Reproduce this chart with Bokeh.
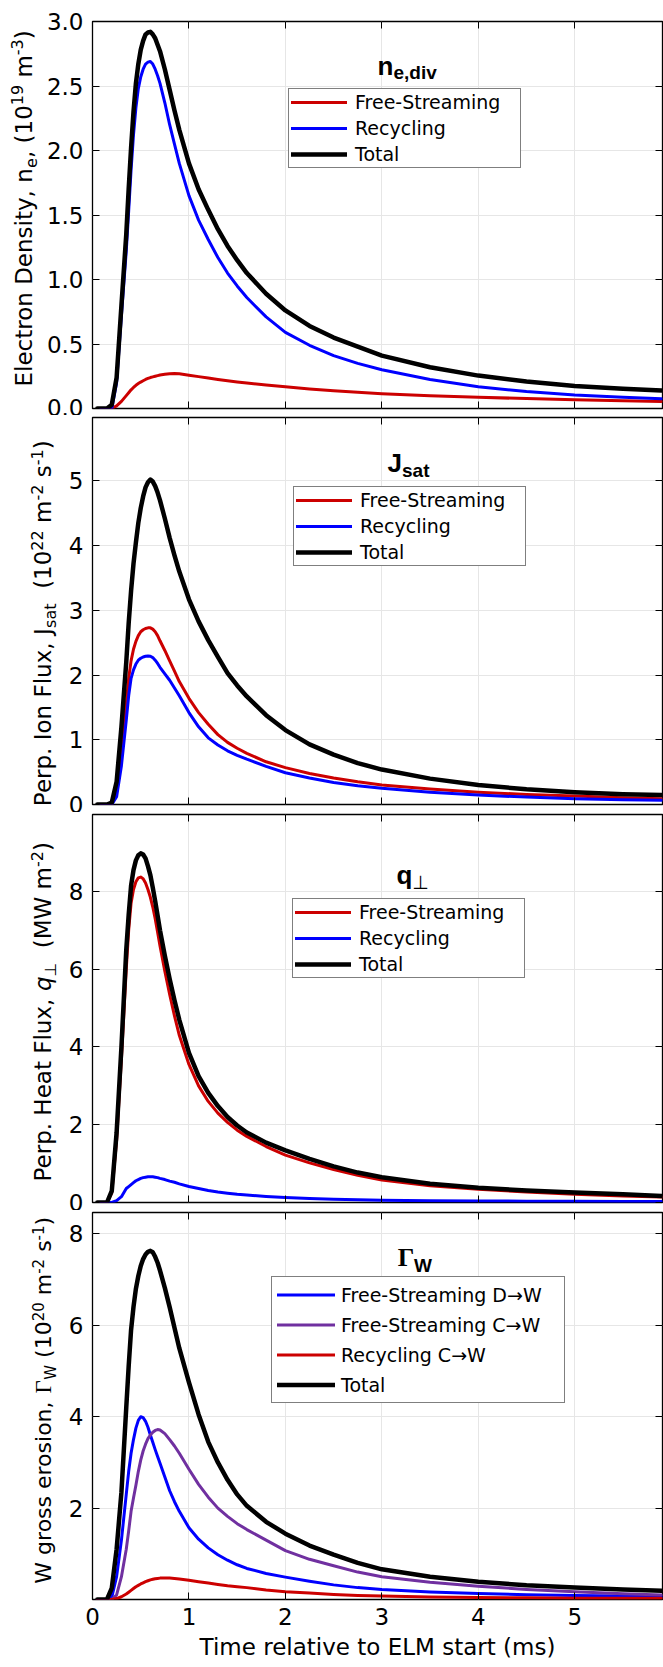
import math
from bokeh.plotting import figure
from bokeh.models import (Range1d, FixedTicker, LinearAxis, Legend, LegendItem,
                          Label, ColumnDataSource)
from bokeh.layouts import column, row
from bokeh.embed import file_html
from bokeh.resources import INLINE
from bokeh.core.properties import value

# ------------------------------------------------------------------ data
time_ms = [0.05, 0.15, 0.2, 0.25, 0.3,
           0.35, 0.375, 0.4, 0.425, 0.45, 0.475, 0.5, 0.525, 0.55, 0.575, 0.6, 0.625,
           0.65, 0.675, 0.7, 0.75, 0.8, 0.85, 0.9,
           1.0, 1.1, 1.2, 1.3, 1.4, 1.5, 1.6, 1.8, 2.0, 2.25, 2.5, 2.75, 3.0, 3.5,
           4.0, 4.5, 5.0, 5.5, 5.9]

# Panel 1: electron density (1e19 m^-3)
ne_free_streaming = [0, 0, 0, 0.02, 0.055,
                     0.1, 0.122, 0.145, 0.163, 0.18, 0.193, 0.205, 0.215, 0.225, 0.233, 0.24,
                     0.245, 0.25, 0.255, 0.26, 0.265, 0.27, 0.271, 0.27,
                     0.258, 0.247, 0.236, 0.225, 0.215, 0.206, 0.198, 0.182, 0.168, 0.152,
                     0.138, 0.126, 0.115, 0.099, 0.087, 0.077, 0.068, 0.06, 0.055]
ne_recycling = [0, 0, 0, 0.2, 0.72,
                1.22, 1.53, 1.85, 2.12, 2.33, 2.48, 2.57, 2.63, 2.67, 2.685, 2.69,
                2.67, 2.63, 2.58, 2.52, 2.37, 2.2, 2.05, 1.9,
                1.65, 1.46, 1.31, 1.17, 1.05, 0.95, 0.86, 0.71, 0.59, 0.49,
                0.41, 0.35, 0.30, 0.225, 0.168, 0.132, 0.105, 0.088, 0.075]
ne_total = [0, 0, 0.03, 0.24, 0.8,
            1.35, 1.7, 2.02, 2.3, 2.52, 2.67, 2.78, 2.85, 2.9, 2.915, 2.92,
            2.9, 2.87, 2.82, 2.77, 2.63, 2.47, 2.31, 2.16,
            1.9, 1.7, 1.54, 1.39, 1.26, 1.15, 1.05, 0.89, 0.76, 0.64,
            0.55, 0.48, 0.41, 0.32, 0.255, 0.21, 0.175, 0.153, 0.14]

# Panel 2: perpendicular ion flux (1e22 m^-2 s^-1)
jsat_free_streaming = [0, 0, 0.01, 0.2, 0.8,
                       1.55, 1.95, 2.22, 2.4, 2.52, 2.61, 2.67, 2.7, 2.72, 2.73, 2.73,
                       2.71, 2.67, 2.61, 2.53, 2.38, 2.22, 2.06, 1.9,
                       1.64, 1.42, 1.24, 1.08, 0.96, 0.87, 0.79, 0.66, 0.57, 0.48,
                       0.41, 0.35, 0.30, 0.24, 0.19, 0.155, 0.13, 0.105, 0.09]
jsat_recycling = [0, 0, 0, 0.12, 0.6,
                  1.3, 1.68, 1.95, 2.08, 2.17, 2.23, 2.26, 2.28, 2.29, 2.295, 2.29,
                  2.27, 2.23, 2.18, 2.12, 2.02, 1.92, 1.8, 1.68,
                  1.42, 1.2, 1.03, 0.92, 0.83, 0.76, 0.70, 0.59, 0.49, 0.41,
                  0.34, 0.29, 0.25, 0.19, 0.145, 0.115, 0.09, 0.075, 0.066]
jsat_total = [0, 0, 0.03, 0.35, 1.2,
              2.2, 2.8, 3.3, 3.72, 4.05, 4.35, 4.58, 4.76, 4.9, 4.98, 5.02,
              4.99, 4.92, 4.82, 4.7, 4.42, 4.12, 3.85, 3.6,
              3.17, 2.83, 2.54, 2.28, 2.03, 1.84, 1.67, 1.38, 1.15, 0.93,
              0.77, 0.64, 0.54, 0.4, 0.3, 0.235, 0.19, 0.16, 0.145]

# Panel 3: perpendicular heat flux (MW m^-2)
q_free_streaming = [0, 0, 0.25, 1.6, 3.7,
                    6.0, 7.0, 7.7, 8.05, 8.25, 8.35, 8.37, 8.33, 8.22, 8.05, 7.85,
                    7.6, 7.3, 6.95, 6.6, 5.95, 5.35, 4.8, 4.3,
                    3.55, 3.0, 2.6, 2.3, 2.06, 1.86, 1.7, 1.44, 1.22, 1.02,
                    0.85, 0.7, 0.58, 0.43, 0.34, 0.27, 0.21, 0.17, 0.14]
q_recycling = [0, 0, 0, 0.05, 0.15,
               0.36, 0.41, 0.46, 0.51, 0.56, 0.59, 0.62, 0.64, 0.65, 0.66, 0.66,
               0.66, 0.65, 0.64, 0.62, 0.59, 0.55, 0.52, 0.48,
               0.41, 0.36, 0.31, 0.27, 0.24, 0.21, 0.19, 0.155, 0.13, 0.105,
               0.085, 0.07, 0.06, 0.048, 0.04, 0.034, 0.03, 0.027, 0.025]
q_total = [0, 0, 0.3, 1.8, 4.0,
           6.5, 7.4, 8.15, 8.55, 8.8, 8.93, 8.98, 8.95, 8.85, 8.65, 8.42,
           8.1, 7.75, 7.38, 7.0, 6.35, 5.75, 5.2, 4.7,
           3.85, 3.25, 2.82, 2.48, 2.2, 1.98, 1.8, 1.54, 1.34, 1.12,
           0.93, 0.77, 0.65, 0.48, 0.38, 0.31, 0.26, 0.21, 0.17]

# Panel 4: W gross erosion (1e20 m^-2 s^-1)
gw_free_streaming_d = [0, 0, 0.05, 0.5, 1.3,
                       2.3, 2.8, 3.2, 3.5, 3.75, 3.92, 4.0, 3.98, 3.9, 3.77, 3.6,
                       3.44, 3.28, 3.13, 2.98, 2.68, 2.38, 2.14, 1.93,
                       1.57, 1.32, 1.13, 0.98, 0.86, 0.76, 0.68, 0.57, 0.49, 0.4,
                       0.32, 0.26, 0.22, 0.165, 0.13, 0.105, 0.09, 0.075, 0.065]
gw_free_streaming_c = [0, 0, 0, 0.1, 0.5,
                       1.1, 1.5, 1.93, 2.22, 2.5, 2.8, 3.05, 3.25, 3.4, 3.52, 3.6,
                       3.66, 3.7, 3.72, 3.71, 3.63, 3.5, 3.36, 3.2,
                       2.85, 2.52, 2.24, 2.0, 1.82, 1.66, 1.53, 1.3, 1.07, 0.88,
                       0.74, 0.6, 0.5, 0.38, 0.29, 0.22, 0.17, 0.125, 0.1]
gw_recycling_c = [0, 0, 0, 0.02, 0.06,
                  0.12, 0.16, 0.2, 0.24, 0.28, 0.31, 0.34, 0.365, 0.39, 0.41, 0.43,
                  0.443, 0.455, 0.462, 0.468, 0.471, 0.47, 0.462, 0.45,
                  0.42, 0.39, 0.36, 0.33, 0.3, 0.28, 0.26, 0.21, 0.17, 0.14,
                  0.11, 0.09, 0.075, 0.055, 0.043, 0.036, 0.03, 0.027, 0.025]
gw_total = [0, 0, 0.25, 1.1, 2.35,
            4.2, 5.1, 5.9, 6.4, 6.8, 7.08, 7.3, 7.45, 7.55, 7.61, 7.63,
            7.6, 7.5, 7.37, 7.2, 6.82, 6.4, 5.95, 5.5,
            4.75, 4.05, 3.45, 3.0, 2.62, 2.3, 2.05, 1.7, 1.44, 1.18,
            0.98, 0.8, 0.66, 0.5, 0.39, 0.31, 0.26, 0.22, 0.19]

x_ticks = [0, 1, 2, 3, 4, 5]
x_tick_labels = ["0", "1", "2", "3", "4", "5"]
ne_ticks = [0, 0.5, 1.0, 1.5, 2.0, 2.5, 3.0]
ne_tick_labels = ["0.0", "0.5", "1.0", "1.5", "2.0", "2.5", "3.0"]
jsat_ticks = [0, 1, 2, 3, 4, 5]
jsat_tick_labels = ["0", "1", "2", "3", "4", "5"]
q_ticks = [0, 2, 4, 6, 8]
q_tick_labels = ["0", "2", "4", "6", "8"]
gw_ticks = [2, 4, 6, 8]
gw_tick_labels = ["2", "4", "6", "8"]

labels_123 = ["Free-Streaming", "Recycling", "Total"]
labels_4 = ["Free-Streaming D\u2192W", "Free-Streaming C\u2192W", "Recycling C\u2192W", "Total"]
x_title = "Time relative to ELM start (ms)"

# ------------------------------------------------------------------ style
SANS = "DejaVu Sans"
TSANS = "Liberation Sans"
SERIF = "Liberation Serif"
RED = "#CC0000"
BLUE = "#0000FF"
PURPLE = "#7030A0"
BLACK = "#000000"
GRID = "#E6E6E6"

DJV = {' ': 318, ',': 318, '.': 318, '-': 361, '(': 390, ')': 390,
       'A': 684, 'B': 686, 'C': 698, 'D': 770, 'E': 632, 'F': 575, 'G': 775, 'H': 752,
       'I': 295, 'J': 295, 'K': 656, 'L': 557, 'M': 863, 'N': 748, 'O': 787, 'P': 603,
       'Q': 787, 'R': 695, 'S': 635, 'T': 611, 'U': 732, 'V': 684, 'W': 989, 'X': 685,
       'Y': 611, 'Z': 685,
       'a': 613, 'b': 635, 'c': 550, 'd': 635, 'e': 615, 'f': 352, 'g': 635, 'h': 634,
       'i': 278, 'j': 278, 'k': 579, 'l': 278, 'm': 974, 'n': 634, 'o': 612, 'p': 635,
       'q': 635, 'r': 411, 's': 521, 't': 392, 'u': 634, 'v': 592, 'w': 818, 'x': 592,
       'y': 592, 'z': 525, '\u22a5': 838, '\u0393': 611, '\u2192': 838}
for d in "0123456789":
    DJV[d] = 636
ARB = {' ': 278, ',': 278, 'a': 556, 'd': 611, 'e': 556, 'i': 278, 'n': 611, 'q': 611,
       's': 556, 't': 333, 'v': 556, 'J': 556, 'W': 944, '\u22a5': 838, '\u0393': 620}

MID = 0.346   # distance from baseline to the middle of the text box, fraction of size


def text_width(txt, size, font):
    table = ARB if font in (TSANS, SERIF) else DJV
    return sum(table.get(ch, 600) for ch in txt) / 1000.0 * size


def add_rich(p, x0, y0, pieces, vertical=False):
    """pieces: (text, size, style, font, shift); shift>0 raises (superscript).
    Spaces are turned into gaps (SVG text drops leading/trailing blanks)."""
    widths = [text_width(t, s, f) for (t, s, st, f, sh) in pieces]
    pos = -sum(widths) / 2.0
    for (txt, size, style, font, shift), w in zip(pieces, widths):
        vis = txt.strip(" ")
        lead = len(txt) - len(txt.lstrip(" "))
        lead_w = text_width(" " * lead, size, font)
        vis_w = text_width(vis, size, font)
        mid = pos + lead_w + vis_w / 2.0
        up = shift + MID * size
        if vertical:
            xo, yo, ang = x0 - up, y0 + mid, math.pi / 2
        else:
            xo, yo, ang = x0 + mid, y0 + up, 0.0
        p.add_layout(Label(x=0, y=0, x_offset=xo, y_offset=yo, text=vis, angle=ang,
                           text_font=font, text_font_size=f"{size}px",
                           text_font_style=style, text_color="black",
                           text_align="center", text_baseline="middle"))
        pos += w


def hide_labels(ax):
    ax.major_label_text_font_size = "1px"
    ax.major_label_text_color = None
    ax.major_label_standoff = 0


def make_fig(ymax, yticks, ylabels, left, height, top, bottom, show_x):
    p = figure(width=left + 571, height=height, x_range=Range1d(0, 5.91),
               y_range=Range1d(0, ymax), output_backend="svg", toolbar_location=None,
               title=None,
               min_border_left=left, min_border_right=1,
               min_border_top=top, min_border_bottom=bottom,
               background_fill_color="white", border_fill_color="white",
               outline_line_color="black", outline_line_width=1.3)
    ya = p.yaxis[0]
    ya.ticker = FixedTicker(ticks=yticks)
    ya.major_label_overrides = {t: l for t, l in zip(yticks, ylabels)}
    ya.major_label_text_font = SANS
    ya.major_label_text_font_size = "23px"
    ya.major_label_text_color = "black"
    ya.major_label_standoff = 9
    xa = p.xaxis[0]
    xa.ticker = FixedTicker(ticks=x_ticks)
    if show_x:
        xa.major_label_overrides = {t: l for t, l in zip(x_ticks, x_tick_labels)}
        xa.major_label_text_font = SANS
        xa.major_label_text_font_size = "23px"
        xa.major_label_text_color = "black"
        xa.major_label_standoff = 8
        xa.axis_label = x_title
        xa.axis_label_text_font = SANS
        xa.axis_label_text_font_size = "23px"
        xa.axis_label_text_font_style = "normal"
        xa.axis_label_text_color = "black"
        xa.axis_label_standoff = 6
    else:
        hide_labels(xa)
    top_ax = LinearAxis(ticker=FixedTicker(ticks=x_ticks))
    right_ax = LinearAxis(ticker=FixedTicker(ticks=yticks))
    hide_labels(top_ax)
    hide_labels(right_ax)
    p.add_layout(top_ax, "above")
    p.add_layout(right_ax, "right")
    for ax in (ya, xa, top_ax, right_ax):
        ax.major_tick_in = 7
        ax.major_tick_out = 0
        ax.minor_tick_line_color = None
        ax.axis_line_color = None
        ax.major_tick_line_color = "black"
    p.xgrid.grid_line_color = GRID
    p.ygrid.grid_line_color = GRID
    return p


def label_fig(width, height, x_base, y_center, pieces):
    lf = figure(width=width, height=height, x_range=Range1d(0, 1), y_range=Range1d(0, 1),
                x_axis_type=None, y_axis_type=None, toolbar_location=None, title=None,
                output_backend="svg", min_border=0, min_border_top=0, min_border_bottom=0,
                min_border_left=0, min_border_right=0, outline_line_color=None,
                background_fill_color="white", border_fill_color="white")
    add_rich(lf, x_base, y_center, pieces, vertical=True)
    return lf


def add_lines(p, series):
    data = {"t": time_ms}
    for i, (vals, color, lw, lab) in enumerate(series):
        data[f"s{i}"] = vals
    src = ColumnDataSource(data)
    items = []
    for i, (vals, color, lw, lab) in enumerate(series):
        r = p.line(x="t", y=f"s{i}", source=src, line_color=color, line_width=lw,
                   line_join="round", line_cap="round")
        items.append(LegendItem(label=value(lab), renderers=[r]))
    return items


def add_legend(p, items, loc, pad, rowh, spacing, glyph_w, standoff, label_w):
    leg = Legend(items=items, location=loc, orientation="vertical",
                 border_line_color="black", border_line_width=1,
                 background_fill_color="white", background_fill_alpha=1.0,
                 label_text_font=SANS, label_text_font_size="19px",
                 label_text_color="black", glyph_width=glyph_w, glyph_height=rowh,
                 label_height=rowh, label_width=label_w, label_standoff=standoff,
                 spacing=spacing, padding=pad, margin=0)
    p.add_layout(leg)


LW = 3
LW_T = 4.5

# ---------------- panel 1  (canvas 0..415, frame 21..408)
p1 = make_fig(3.0, ne_ticks, ne_tick_labels, 52, 415, 21, 7, False)
it = add_lines(p1, [(ne_free_streaming, RED, LW, labels_123[0]),
                    (ne_recycling, BLUE, LW, labels_123[1]),
                    (ne_total, BLACK, LW_T, labels_123[2])])
add_legend(p1, it, (196, 240), 2, 22, 4, 56, 8, 163)
add_rich(p1, 314.7, 333.7, [("n", 26, "bold", TSANS, 0), ("e,div", 19, "bold", TSANS, -4)])
lf1 = label_fig(40, 415, 31, 200, [("Electron Density, n", 23, "normal", SANS, 0),
                                   ("e", 16, "normal", SANS, -5),
                                   (", (10", 23, "normal", SANS, 0),
                                   ("19", 16, "normal", SANS, 9),
                                   (" m", 23, "normal", SANS, 0),
                                   ("-3", 16, "normal", SANS, 9),
                                   (")", 23, "normal", SANS, 0)])

# ---------------- panel 2  (canvas 415..812, frame 417..804)
p2 = make_fig(5.98, jsat_ticks, jsat_tick_labels, 34, 397, 2, 8, False)
it = add_lines(p2, [(jsat_free_streaming, RED, LW, labels_123[0]),
                    (jsat_recycling, BLUE, LW, labels_123[1]),
                    (jsat_total, BLACK, LW_T, labels_123[2])])
add_legend(p2, it, (201, 238), 2, 22, 4, 56, 8, 163)
add_rich(p2, 316, 332.6, [("J", 26, "bold", TSANS, 0), ("sat", 19, "bold", TSANS, -5)])
lf2 = label_fig(58, 397, 50.7, 181, [("Perp. Ion Flux, J", 23, "normal", SANS, 0),
                                     ("sat", 16, "normal", SANS, -5),
                                     ("  (10", 23, "normal", SANS, 0),
                                     ("22", 16, "normal", SANS, 9),
                                     (" m", 23, "normal", SANS, 0),
                                     ("-2", 16, "normal", SANS, 9),
                                     (" s", 23, "normal", SANS, 0),
                                     ("-1", 16, "normal", SANS, 9),
                                     (")", 23, "normal", SANS, 0)])

# ---------------- panel 3  (canvas 812..1210, frame 814..1202)
p3 = make_fig(9.98, q_ticks, q_tick_labels, 34, 398, 2, 8, False)
it = add_lines(p3, [(q_free_streaming, RED, LW, labels_123[0]),
                    (q_recycling, BLUE, LW, labels_123[1]),
                    (q_total, BLACK, LW_T, labels_123[2])])
add_legend(p3, it, (200, 224), 2, 22, 4, 56, 8, 163)
add_rich(p3, 320, 318.5, [("q", 26, "bold", TSANS, 0), ("\u22a5", 19, "normal", SANS, -5)])
lf3 = label_fig(58, 398, 50.7, 190.5, [("Perp. Heat Flux,", 23, "normal", SANS, 0),
                                       (" ", 23, "normal", SANS, 0),
                                       ("q", 23, "italic", SANS, 0),
                                       ("\u22a5", 16, "normal", SANS, -5),
                                       ("  (MW m", 23, "normal", SANS, 0),
                                       ("-2", 16, "normal", SANS, 9),
                                       (")", 23, "normal", SANS, 0)])

# ---------------- panel 4  (canvas 1210..1667, frame 1212..1599)
p4 = make_fig(8.47, gw_ticks, gw_tick_labels, 34, 457, 2, 68, True)
it = add_lines(p4, [(gw_free_streaming_d, BLUE, LW, labels_4[0]),
                    (gw_free_streaming_c, PURPLE, LW, labels_4[1]),
                    (gw_recycling_c, RED, LW, labels_4[2]),
                    (gw_total, BLACK, LW_T, labels_4[3])])
add_legend(p4, it, (179, 196), 5, 25, 5, 58, 6, 218)
add_rich(p4, 322.5, 332.6, [("\u0393", 26, "bold", SERIF, 0), ("W", 19, "bold", TSANS, -5)])
lf4 = label_fig(58, 457, 50.7, 199, [("W gross erosion,", 22, "normal", SANS, 0),
                                     (" ", 22, "normal", SANS, 0),
                                     ("\u0393", 23, "normal", SERIF, 0),
                                     ("W", 15, "normal", SANS, -5),
                                     (" (10", 22, "normal", SANS, 0),
                                     ("20", 15, "normal", SANS, 8.5),
                                     (" m", 22, "normal", SANS, 0),
                                     ("-2", 15, "normal", SANS, 8.5),
                                     (" s", 22, "normal", SANS, 0),
                                     ("-1", 15, "normal", SANS, 8.5),
                                     (")", 22, "normal", SANS, 0)])

layout = column(row(lf1, p1, spacing=0), row(lf2, p2, spacing=0),
                row(lf3, p3, spacing=0), row(lf4, p4, spacing=0), spacing=0)
open("out.html", "w").write(file_html(layout, INLINE, title="ELM fluxes"))
